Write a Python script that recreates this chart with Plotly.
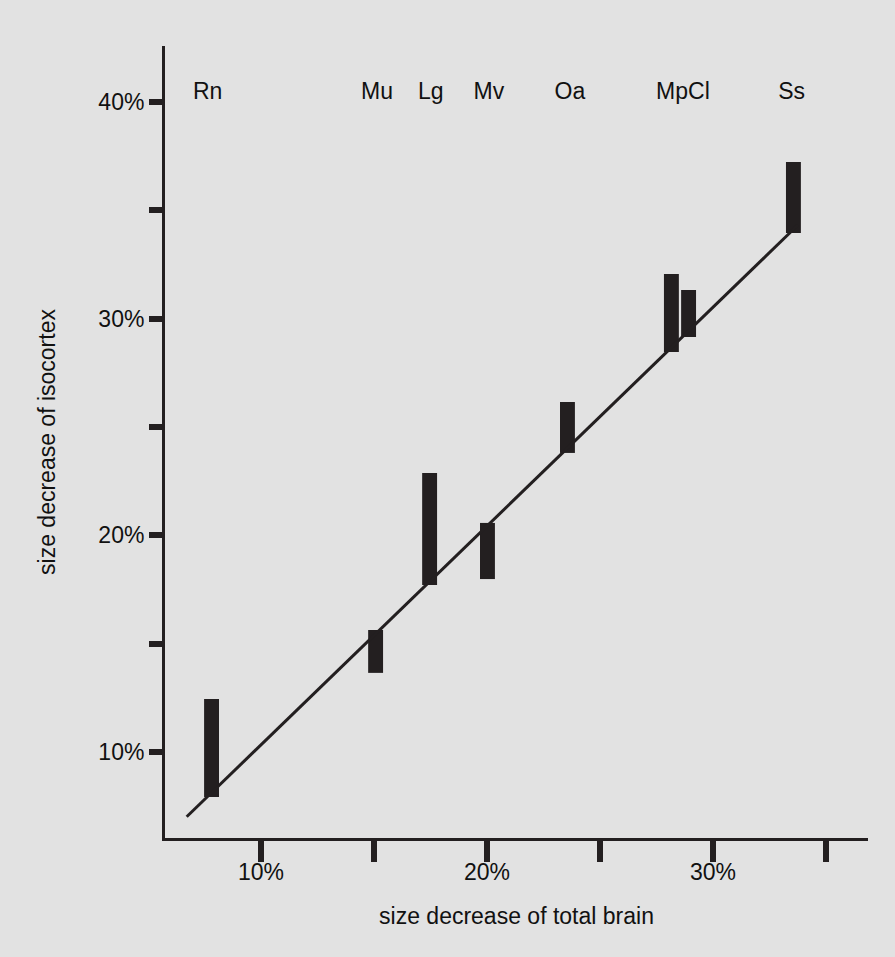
import plotly.graph_objects as go

# Data (percent)
species = ["Rn", "Mu", "Lg", "Mv", "Oa", "MpCl", "MpCl", "Ss"]
bar_x = [7.81, 15.07, 17.46, 20.02, 23.56, 28.16, 28.92, 33.56]
bar_low = [7.92, 13.65, 17.71, 17.98, 23.80, 28.46, 29.15, 33.95]
bar_high = [12.45, 15.63, 22.87, 20.57, 26.15, 32.06, 31.32, 37.23]

label_text = ["Rn", "Mu", "Lg", "Mv", "Oa", "MpCl", "Ss"]
label_x = [7.64, 15.13, 17.51, 20.08, 23.67, 28.67, 33.48]
label_y = 40.4

fit_x = [6.71, 33.76]
fit_y = [7.01, 34.32]

x_tickvals = [10, 15, 20, 25, 30, 35]
x_ticktext = ["10%", "", "20%", "", "30%", ""]
y_tickvals = [10, 15, 20, 25, 30, 35, 40]
y_ticktext = ["10%", "", "20%", "", "30%", "", "40%"]

INK = "#231f20"
BG = "#e2e2e2"
FONT = "Liberation Sans, Arial, sans-serif"

fig = go.Figure()
fig.add_trace(go.Bar(
    x=bar_x,
    y=[h - l for h, l in zip(bar_high, bar_low)],
    base=bar_low,
    width=0.66,
    marker=dict(color=INK, line=dict(width=0)),
    hoverinfo="skip",
))
fig.add_trace(go.Scatter(
    x=fit_x, y=fit_y, mode="lines",
    line=dict(color=INK, width=3),
    hoverinfo="skip",
))
fig.add_trace(go.Scatter(
    x=label_x, y=[label_y] * len(label_x), mode="text",
    text=label_text, textposition="middle center",
    textfont=dict(family=FONT, size=23, color="#111111"),
    hoverinfo="skip",
))

fig.update_layout(
    width=895, height=957,
    margin=dict(l=165, r=27, t=46, b=119),
    paper_bgcolor=BG, plot_bgcolor=BG,
    showlegend=False,
    font=dict(family=FONT, size=23, color="#111111"),
    xaxis=dict(
        range=[5.75, 36.86],
        tickmode="array", tickvals=x_tickvals, ticktext=x_ticktext,
        ticks="outside", ticklen=21, tickwidth=6, tickcolor=INK,
        showline=True, linewidth=3, linecolor=INK,
        showgrid=False, zeroline=False,
        ticklabelstandoff=-10,
        tickfont=dict(family=FONT, size=23, color="#111111"),
        title=dict(text="size decrease of total brain",
                   font=dict(family=FONT, size=23, color="#111111"),
                   standoff=25),
    ),
    yaxis=dict(
        range=[6.03, 42.58],
        tickmode="array", tickvals=y_tickvals, ticktext=y_ticktext,
        ticks="outside", ticklen=13, tickwidth=6, tickcolor=INK,
        showline=True, linewidth=3, linecolor=INK,
        showgrid=False, zeroline=False,
        tickfont=dict(family=FONT, size=23, color="#111111"),
        title=dict(text="size decrease of isocortex",
                   font=dict(family=FONT, size=23, color="#111111"),
                   standoff=37),
    ),
)

fig.write_html("out.html")
